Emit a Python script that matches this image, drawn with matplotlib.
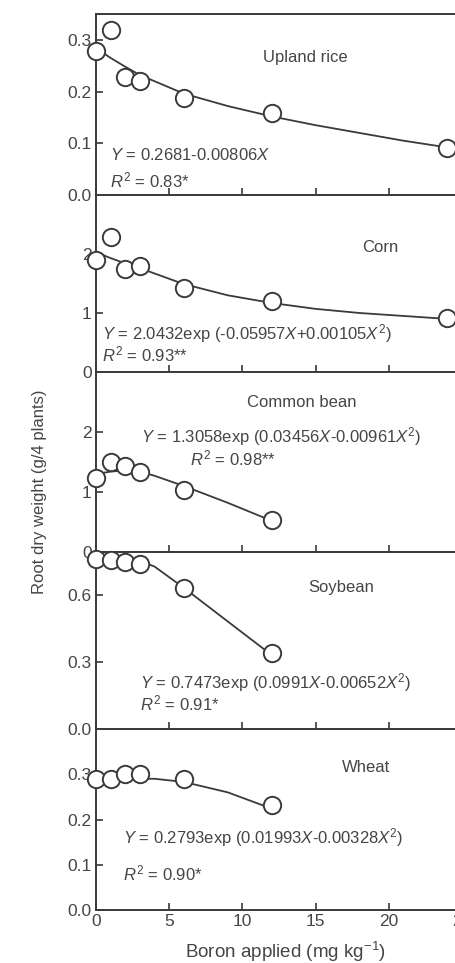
import matplotlib
matplotlib.use("Agg")
import matplotlib.pyplot as plt

plt.rcParams["font.family"] = ["Liberation Sans", "DejaVu Sans"]
plt.rcParams["mathtext.fontset"] = "custom"
plt.rcParams["mathtext.rm"] = "Liberation Sans"
plt.rcParams["mathtext.it"] = "Liberation Sans:italic"

# boron doses (mg/kg) and measured root dry weight (g/4 plants)
boro_arroz = [0, 1, 2, 3, 6, 12, 24]
arroz = [0.278, 0.320, 0.229, 0.220, 0.188, 0.159, 0.090]
boro_maiz = [0, 1, 2, 3, 6, 12, 24]
maiz = [1.90, 2.29, 1.74, 1.79, 1.42, 1.20, 0.92]
boro_frijol = [0, 1, 2, 3, 6, 12]
frijol = [1.24, 1.50, 1.43, 1.33, 1.03, 0.54]
boro_soya = [0, 1, 2, 3, 6, 12]
soya = [0.758, 0.753, 0.744, 0.735, 0.630, 0.340]
boro_trigo = [0, 1, 2, 3, 6, 12]
trigo = [0.289, 0.289, 0.300, 0.300, 0.290, 0.231]

# fitted curves
curva_x_arroz = [0, 1, 2, 3, 6, 9, 12, 15, 18, 21, 24]
curva_arroz = [0.284, 0.265, 0.248, 0.232, 0.196, 0.172, 0.152, 0.135, 0.120, 0.105, 0.092]
curva_x_maiz = [0, 1, 2, 3, 6, 9, 12, 15, 18, 21, 24]
curva_maiz = [2.03, 1.93, 1.84, 1.76, 1.49, 1.30, 1.17, 1.07, 1.00, 0.95, 0.90]
curva_x_frijol = [0, 1, 2, 3, 4, 6, 9, 12]
curva_frijol = [1.30, 1.34, 1.36, 1.34, 1.27, 1.10, 0.82, 0.52]
curva_x_soya = [0, 2, 3, 4, 6, 9, 12]
curva_soya = [0.750, 0.757, 0.750, 0.725, 0.630, 0.480, 0.330]
curva_x_trigo = [0, 1, 2, 3, 4, 6, 9, 12]
curva_trigo = [0.280, 0.285, 0.289, 0.290, 0.290, 0.283, 0.260, 0.224]

cultivos = ["Upland rice", "Corn", "Common bean", "Soybean", "Wheat"]
ecuaciones = [
    r"$Y$ = 0.2681-0.00806$X$",
    r"$Y$ = 2.0432exp (-0.05957$X$+0.00105$X^2$)",
    r"$Y$ = 1.3058exp (0.03456$X$-0.00961$X^2$)",
    r"$Y$ = 0.7473exp (0.0991$X$-0.00652$X^2$)",
    r"$Y$ = 0.2793exp (0.01993$X$-0.00328$X^2$)",
]
r2 = [r"$R^2$ = 0.83*", r"$R^2$ = 0.93**", r"$R^2$ = 0.98**", r"$R^2$ = 0.91*", r"$R^2$ = 0.90*"]
yticks = [[0.0, 0.1, 0.2, 0.3], [0, 1, 2], [0, 1, 2], [0.0, 0.3, 0.6], [0.0, 0.1, 0.2, 0.3]]
ytick_labels = [["0.0", "0.1", "0.2", "0.3"], ["0", "1", "2"], ["0", "1", "2"],
                ["0.0", "0.3", "0.6"], ["0.0", "0.1", "0.2", "0.3"]]
ylims = [0.35, 3.0, 3.0, 0.79, 0.4]
xticks = [0, 5, 10, 15, 20, 25]

puntos = [(boro_arroz, arroz), (boro_maiz, maiz), (boro_frijol, frijol),
          (boro_soya, soya), (boro_trigo, trigo)]
curvas = [(curva_x_arroz, curva_arroz), (curva_x_maiz, curva_maiz),
          (curva_x_frijol, curva_frijol), (curva_x_soya, curva_soya),
          (curva_x_trigo, curva_trigo)]

# layout (pixels from top) and text positions (axes fraction)
W, H = 456, 963
bordes = [(14, 195), (195, 372), (372, 552), (552, 729), (729, 910)]
pos_nombre = [(0.573, 0.757), (0.777, 0.706), (0.563, 0.833), (0.671, 0.797), (0.739, 0.79)]
pos_ec = [(0.038, 0.22, "left"), (0.016, 0.215, "left"), (0.505, 0.639, "center"),
          (0.12, 0.26, "left"), (0.073, 0.40, "left")]
pos_r2 = [(0.038, 0.083, "left"), (0.016, 0.1, "left"), (0.375, 0.522, "center"),
          (0.12, 0.147, "left"), (0.073, 0.204, "left")]

tinta = "#3a3a3a"
gris = "#454545"
fig = plt.figure(figsize=(W / 100, H / 100), dpi=100)
izq, der = 96, 462

for i in range(5):
    top, bot = bordes[i]
    ax = fig.add_axes([izq / W, 1 - bot / H, (der - izq) / W, (bot - top) / H])
    cx, cy = curvas[i]
    ax.plot(cx, cy, color=tinta, linewidth=1.3, zorder=2)
    px, py = puntos[i]
    ax.plot(px, py, linestyle="none", marker="o", markersize=12.5,
            markerfacecolor="white", markeredgecolor=tinta, markeredgewidth=1.4,
            clip_on=False, zorder=3)
    ax.set_xlim(0, 25)
    ax.set_ylim(0, ylims[i])
    ax.set_yticks(yticks[i])
    ax.set_yticklabels(ytick_labels[i])
    ax.set_xticks(xticks)
    ax.tick_params(direction="in", length=5, width=1.2, color=tinta,
                   labelcolor=gris, labelsize=12.5, pad=3)
    if i < 4:
        ax.tick_params(labelbottom=False)
    for sp in ax.spines.values():
        sp.set_color(tinta)
        sp.set_linewidth(1.4)

    x, y = pos_nombre[i]
    ax.text(x, y, cultivos[i], transform=ax.transAxes, ha="center", va="center",
            fontsize=12, color=gris)
    x, y, ha = pos_ec[i]
    ax.text(x, y, ecuaciones[i], transform=ax.transAxes, ha=ha, va="center",
            fontsize=12, color=gris)
    x, y, ha = pos_r2[i]
    ax.text(x, y, r2[i], transform=ax.transAxes, ha=ha, va="center",
            fontsize=12, color=gris)
    if i == 4:
        ax.set_xlabel(r"Boron applied (mg kg$^{-1}$)", fontsize=13.5, color=gris)
        ax.xaxis.set_label_coords((285 - izq) / (der - izq), -0.165)

fig.text(40 / W, 1 - 492 / H, "Root dry weight (g/4 plants)", rotation=90,
         ha="center", va="center", fontsize=12, color=gris)

fig.savefig("out.png", dpi=100)
